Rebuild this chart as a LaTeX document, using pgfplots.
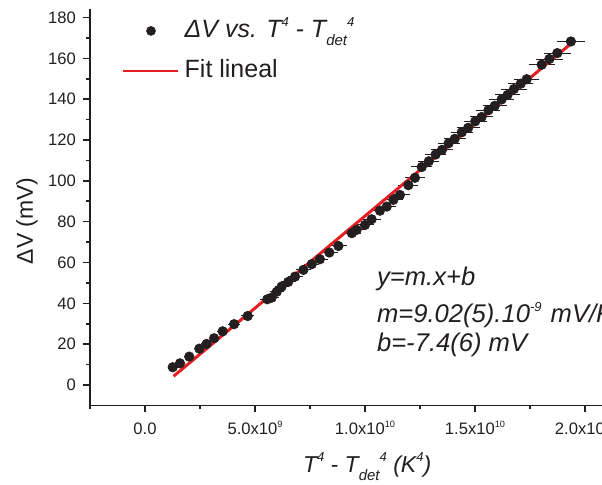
\documentclass[border=0pt]{standalone}
\usepackage{fontspec}
\setmainfont{Liberation Sans}
\usepackage{pgfplots}
\pgfplotsset{compat=1.18}
\usepackage{pgfplotstable}
\definecolor{ink}{RGB}{35,31,32}
\definecolor{fitred}{RGB}{230,30,36}
% small Origin-style super/subscripts
\newcommand\supt[1]{\raisebox{3.6pt}{\fontsize{4.6}{5}\selectfont #1}}
\newcommand\supl[1]{\raisebox{5.5pt}{\fontsize{6.5}{7}\selectfont #1}}
\newcommand\subl[1]{\raisebox{-4pt}{\fontsize{7.5}{8}\selectfont #1}}

% x in units of 1e9 K^4, y in mV, ex = error in x
\pgfplotstableread{
x y ex
1.26 8.7 0.03
1.59 10.6 0.04
2.01 13.9 0.05
2.47 17.8 0.06
2.80 20.1 0.06
3.14 22.9 0.07
3.53 26.3 0.08
4.05 29.8 0.09
4.67 33.8 0.11
5.56 42.0 0.13
5.76 42.8 0.13
5.99 45.7 0.14
6.21 48.2 0.14
6.51 50.5 0.15
6.82 53.1 0.16
7.20 56.4 0.17
7.58 59.2 0.17
7.95 61.6 0.18
8.38 64.9 0.19
8.79 68.1 0.20
9.40 74.4 0.22
9.62 76.0 0.22
10.00 78.4 0.23
10.30 81.2 0.24
10.68 85.4 0.25
10.99 87.4 0.25
11.29 90.7 0.26
11.59 93.1 0.27
11.97 97.9 0.28
12.27 101.5 0.28
12.58 106.8 0.29
12.90 109.6 0.30
13.21 112.9 0.30
13.50 115.2 0.31
13.80 118.4 0.32
14.08 120.6 0.32
14.40 123.8 0.33
14.69 126.0 0.34
15.01 129.2 0.35
15.30 131.3 0.35
15.61 134.6 0.36
15.90 136.8 0.37
16.21 139.9 0.37
16.48 142.1 0.38
16.77 145.0 0.39
17.08 147.6 0.39
17.35 149.8 0.40
18.03 156.9 0.41
18.38 159.7 0.42
18.74 162.6 0.43
19.36 168.3 0.45
}\datatable

\begin{document}
\begin{tikzpicture}
\begin{axis}[
  name=ax,
  scale only axis,
  width=258.5pt, height=198pt,
  xmin=-2.5, xmax=21, ymin=-10, ymax=184,
  clip=false,
  axis x line*=bottom, axis y line*=left,
  axis line style={ink, line width=0.8pt},
  tick align=outside,
  major tick length=3.5pt, minor tick length=2pt,
  every tick/.style={ink, line width=0.8pt},
  xtick={0,5,10,15,20},
  xticklabels={0.0, 5.0x10\supt{9}, 1.0x10\supt{10}, 1.5x10\supt{10}, 2.0x10\supt{10}},
  minor xtick={-2.5,2.5,7.5,12.5,17.5},
  ytick={0,20,...,180},
  minor ytick={10,30,...,170},
  /pgf/number format/assume math mode=true,
  ticklabel style={font=\fontsize{8.3}{10}\selectfont, text=ink},
  xticklabel style={text height=7.5pt, text depth=0pt},
  xlabel={\textit{T\supl{4} - T\subl{det}\supl{4} (K\supl{4})}},
  xlabel style={font=\fontsize{11.5}{14}\selectfont, text=ink, at={(rel axis cs:0.536,0)}, anchor=base, yshift=-33.5pt},
  ylabel={ΔV (mV)},
  ylabel style={font=\fontsize{11.5}{14}\selectfont, text=ink, at={(rel axis cs:0,0.466)}, anchor=base, yshift=28.5pt},
  legend style={draw=none, fill=none, at={(axis cs:-1.05,181)}, anchor=north west,
    font=\fontsize{12.5}{15}\selectfont, text=ink, inner sep=0pt, row sep=5pt, column sep=1.5pt,
    nodes={inner sep=1pt, text height=10pt, text depth=3pt}},
  legend cell align=left,
]
\addplot[only marks, mark=*, mark size=2.35pt, ink,
  legend image code/.code={\fill[ink] (13.75pt,0pt) circle (2.2pt);},
  error bars/.cd, x dir=both, x explicit,
  error bar style={ink, line width=0.5pt},
  error mark options={ink, mark size=2pt, line width=0.5pt}]
  table[x=x, y=y, x error=ex]{\datatable};
\addlegendentry{\textit{ΔV vs. T\supl{4} - T\subl{det}\supl{4}}}
\addplot[fitred, line width=1.5pt,
  legend image code/.code={\draw[fitred, line width=1.2pt] (0pt,0pt) -- (27.5pt,0pt);}]
  coordinates {(1.3,4.3) (19.36,167.2)};
\addlegendentry{Fit lineal}
\node[anchor=base west, font=\fontsize{12.8}{15}\selectfont\itshape, text=ink, inner sep=0pt] at (axis cs:10.53,48.5) {y=m.x+b};
\node[anchor=base west, font=\fontsize{12.8}{15}\selectfont\itshape, text=ink, inner sep=0pt] at (axis cs:10.53,30.5) {m=9.02(5).10\supl{-9}\hspace{1pt} mV/K\supl{4}};
\node[anchor=base west, font=\fontsize{12.8}{15}\selectfont\itshape, text=ink, inner sep=0pt] at (axis cs:10.53,16.3) {b=-7.4(6) mV};
\end{axis}
\pgfresetboundingbox
\path[use as bounding box] ([shift={(-45pt,-39.3pt)}]ax.south west) rectangle ([shift={(256pt,202.7pt)}]ax.south west);
\end{tikzpicture}
\end{document}
